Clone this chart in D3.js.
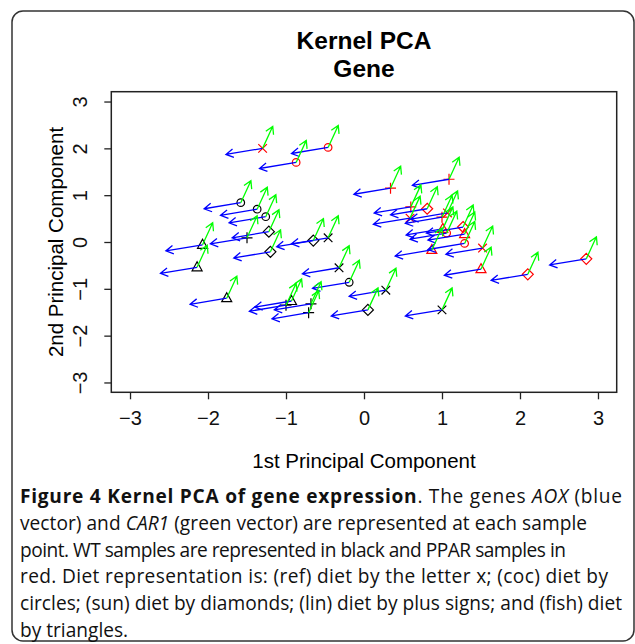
<!DOCTYPE html>
<html>
<head>
<meta charset="utf-8">
<script src="https://cdn.jsdelivr.net/npm/d3@7"></script>
<style>
  body { margin: 0; background: #fff; }
  svg { display: block; }
</style>
</head>
<body>
<div id="chart"></div>
<script>
// sample scores on the two kernel PCs
var dietNames = ["ref", "coc", "sun", "lin", "fish"];

var wtPC1 = [-0.46, -0.32, 0.28, 1.00,  -1.58, -1.37, -1.26, -0.19,  -1.22, -1.20, -0.65, 0.05,  -1.50, -1.00, -0.68, -0.71,  -2.07, -2.14, -1.76, -0.93];
var wtPC2 = [0.09, -0.55, -1.03, -1.45,  0.84, 0.70, 0.54, -0.86,  0.22, -0.21, 0.03, -1.45,  0.09, -1.35, -1.32, -1.51,  -0.06, -0.54, -1.20, -1.26];
var wtDiet = ["ref","ref","ref","ref", "coc","coc","coc","coc", "sun","sun","sun","sun", "lin","lin","lin","lin", "fish","fish","fish","fish"];

var pparPC1 = [-1.30, 0.59, 1.07, 1.52,  -0.87, -0.46, 1.29, 1.06,  0.81, 2.10, 2.85, 1.27,  0.34, 1.09, 0.60, 1.00,  0.87, 1.50, 1.01, 1.29];
var pparPC2 = [2.00, 0.51, 0.62, -0.13,  1.70, 2.02, -0.03, 0.19,  0.71, -0.69, -0.36, 0.32,  1.15, 1.34, 0.75, 0.53,  -0.17, -0.58, 0.28, 0.17];
var pparDiet = ["ref","ref","ref","ref", "coc","coc","coc","coc", "sun","sun","sun","sun", "lin","lin","lin","lin", "fish","fish","fish","fish"];

// gene vectors drawn at every sample
var aoxVector = [-0.47, -0.13];
var car1Vector = [0.13, 0.47];

var xTicks = [-3, -2, -1, 0, 1, 2, 3];
var yTicks = [-3, -2, -1, 0, 1, 2, 3];

var captionLines = [
  [["b", "Figure 4 Kernel PCA of gene expression"], ["n", ". The genes "], ["i", "AOX"], ["n", " (blue"]],
  [["n", "vector) and "], ["i", "CAR1"], ["n", " (green vector) are represented at each sample"]],
  [["n", "point. WT samples are represented in black and PPAR samples in"]],
  [["n", "red. Diet representation is: (ref) diet by the letter x; (coc) diet by"]],
  [["n", "circles; (sun) diet by diamonds; (lin) diet by plus signs; and (fish) diet"]],
  [["n", "by triangles."]]
];
// right ends of the caption lines in the figure (last line left natural)
var captionRight = [622, 587, 566, 608, 622, null];

var width = 635, height = 644;
var svg = d3.select("#chart").append("svg")
  .attr("width", width)
  .attr("height", height);

// figure frame
svg.append("rect")
  .attr("x", 12).attr("y", 11)
  .attr("width", 622).attr("height", 630)
  .attr("rx", 11)
  .style("fill", "none")
  .style("stroke", "#333")
  .style("stroke-width", 1.5);

var x = d3.scaleLinear().domain([-3.24, 3.24]).range([111.3, 616.7]);
var y = d3.scaleLinear().domain([-3.21, 3.21]).range([392.3, 91.7]);

var font = "'Liberation Sans', Arial, sans-serif";

svg.append("text")
  .attr("x", 364).attr("y", 49)
  .attr("text-anchor", "middle")
  .style("font-family", font).style("font-weight", "bold").style("font-size", "24.5px")
  .text("Kernel PCA");
svg.append("text")
  .attr("x", 364).attr("y", 77)
  .attr("text-anchor", "middle")
  .style("font-family", font).style("font-weight", "bold").style("font-size", "24.5px")
  .text("Gene");

// axes
var fmt = d3.format("d");
var xAxis = svg.append("g")
  .attr("transform", "translate(0,392.3)")
  .call(d3.axisBottom(x).tickValues(xTicks).tickFormat(fmt).tickSize(7).tickPadding(12));
var yAxis = svg.append("g")
  .attr("transform", "translate(111.3,0)")
  .call(d3.axisLeft(y).tickValues(yTicks).tickFormat(fmt).tickSize(7));
[xAxis, yAxis].forEach(function(g) {
  g.select(".domain").remove();
  g.selectAll("line").style("stroke", "#222").style("stroke-width", 1.3);
  g.selectAll("text").style("font-family", font).style("font-size", "20px").style("fill", "#111");
});
yAxis.selectAll(".tick text")
  .attr("transform", "rotate(-90)")
  .attr("text-anchor", "middle")
  .attr("x", 0).attr("y", -31).attr("dy", "0.35em");

svg.append("rect")
  .attr("x", x(-3.24)).attr("y", y(3.21))
  .attr("width", x(3.24) - x(-3.24))
  .attr("height", y(-3.21) - y(3.21))
  .style("fill", "none").style("stroke", "#222").style("stroke-width", 1.5);

svg.append("text")
  .attr("x", 364).attr("y", 468)
  .attr("text-anchor", "middle")
  .style("font-family", font).style("font-size", "20.5px")
  .text("1st Principal Component");
svg.append("text")
  .attr("transform", "translate(63,242) rotate(-90)")
  .attr("text-anchor", "middle")
  .style("font-family", font).style("font-size", "20.5px")
  .text("2nd Principal Component");

// build sample list
var samples = [];
wtPC1.forEach(function(v, i) { samples.push({pc1: v, pc2: wtPC2[i], diet: wtDiet[i], color: "#000"}); });
pparPC1.forEach(function(v, i) { samples.push({pc1: v, pc2: pparPC2[i], diet: pparDiet[i], color: "#ff0000"}); });

function arrowPath(x0, y0, x1, y1) {
  var a = Math.atan2(y1 - y0, x1 - x0), len = 8.5, sp = Math.PI / 6;
  return "M" + x0 + "," + y0 + "L" + x1 + "," + y1 +
    "M" + (x1 - len * Math.cos(a - sp)) + "," + (y1 - len * Math.sin(a - sp)) +
    "L" + x1 + "," + y1 +
    "L" + (x1 - len * Math.cos(a + sp)) + "," + (y1 - len * Math.sin(a + sp));
}

var markers = svg.append("g").selectAll("path")
  .data(samples)
  .enter()
  .append("path")
  .attr("d", function(d) {
    var cx = x(d.pc1), cy = y(d.pc2), s = 4.3;
    if (d.diet == "ref") return "M" + (cx - s) + "," + (cy - s) + "L" + (cx + s) + "," + (cy + s) + "M" + (cx - s) + "," + (cy + s) + "L" + (cx + s) + "," + (cy - s);
    if (d.diet == "lin") return "M" + (cx - 5.5) + "," + cy + "L" + (cx + 5.5) + "," + cy + "M" + cx + "," + (cy - 5.5) + "L" + cx + "," + (cy + 5.5);
    if (d.diet == "sun") return "M" + cx + "," + (cy - 5.5) + "L" + (cx + 5.5) + "," + cy + "L" + cx + "," + (cy + 5.5) + "L" + (cx - 5.5) + "," + cy + "Z";
    if (d.diet == "fish") return "M" + cx + "," + (cy - 5.5) + "L" + (cx + 5) + "," + (cy + 3.5) + "L" + (cx - 5) + "," + (cy + 3.5) + "Z";
    return "M" + (cx + 3.8) + "," + cy + "A3.8,3.8 0 1,1 " + (cx - 3.8) + "," + cy + "A3.8,3.8 0 1,1 " + (cx + 3.8) + "," + cy;
  })
  .style("fill", "none")
  .style("stroke", d => d.color)
  .style("stroke-width", 1.2);

var aoxArrows = svg.append("g").selectAll("path")
  .data(samples)
  .enter()
  .append("path")
  .attr("d", d => arrowPath(x(d.pc1), y(d.pc2), x(d.pc1 + aoxVector[0]), y(d.pc2 + aoxVector[1])))
  .style("fill", "none")
  .style("stroke", "#0000ff")
  .style("stroke-width", 1.3);

var carArrows = svg.append("g").selectAll("path")
  .data(samples)
  .enter()
  .append("path")
  .attr("d", d => arrowPath(x(d.pc1), y(d.pc2), x(d.pc1 + car1Vector[0]), y(d.pc2 + car1Vector[1])))
  .style("fill", "none")
  .style("stroke", "#00ff00")
  .style("stroke-width", 1.3);

// caption
var cap = svg.append("g")
  .style("font-family", "'Open Sans', 'Noto Sans', sans-serif")
  .style("fill", "#111");
var lines = cap.selectAll("text")
  .data(captionLines)
  .enter()
  .append("text")
  .attr("x", 20)
  .attr("y", (d, i) => 503 + i * 26.8)
  .style("font-size", "17px");
lines.selectAll("tspan")
  .data(d => d)
  .enter()
  .append("tspan")
  .style("font-weight", d => d[0] == "b" ? "bold" : "normal")
  .style("font-style", d => d[0] == "i" ? "italic" : "normal")
  .text(d => d[1]);

// pick a font size from the plain lines, then stretch spacing to the figure's line ends
var ratios = [];
lines.each(function(d, i) {
  if (i >= 1 && i <= 4) ratios.push((captionRight[i] - 20) / this.getComputedTextLength());
});
var fs = 17 * d3.mean(ratios);
lines.style("font-size", fs + "px");
lines.each(function(d, i) {
  if (captionRight[i]) d3.select(this).attr("textLength", captionRight[i] - 20).attr("lengthAdjust", "spacing");
});
</script>
</body>
</html>
